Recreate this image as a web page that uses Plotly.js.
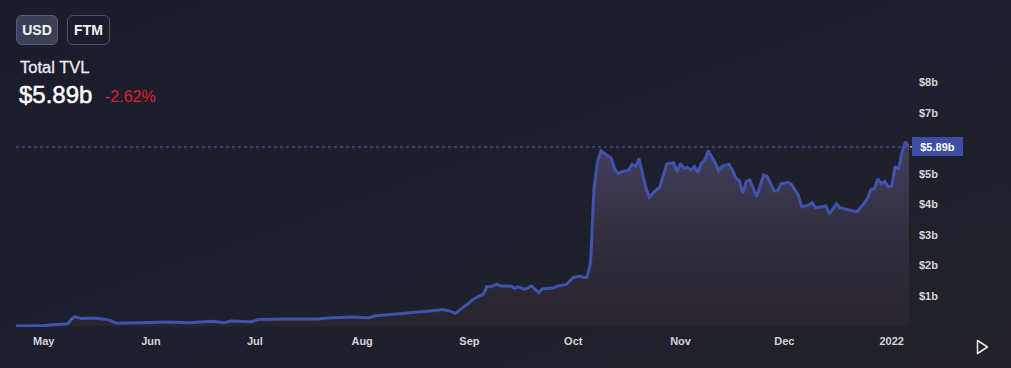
<!DOCTYPE html>
<html>
<head>
<meta charset="utf-8">
<script src="https://cdn.plot.ly/plotly-3.0.1.min.js"></script>
<style>
  html, body { margin:0; padding:0; }
  body { width:1011px; height:368px; overflow:hidden;
         background: linear-gradient(160deg, #1a1c2b 0%, #1e1f2d 55%, #222228 100%);
         font-family: "Liberation Sans", Arial, sans-serif; }
  #wrap { position:relative; width:1011px; height:368px; }
  #chart { position:absolute; left:0; top:0; width:1011px; height:368px; }
  .btn { position:absolute; top:15px; height:28px; border-radius:6px; color:#f2f2f4;
         font-size:14px; font-weight:600; line-height:28px; text-align:center; box-sizing:content-box; }
  #usd { left:16px; width:40px; background:#3b4057; border:1px solid #575d78; }
  #ftm { left:67px; width:41px; background:transparent; border:1px solid #4a4e66; }
  #label { position:absolute; left:20px; top:58px; font-size:16.5px; color:#ececef; -webkit-text-stroke:0.3px #ececef; }
  #value { position:absolute; left:19px; top:81px; font-size:24px; color:#ffffff; -webkit-text-stroke:0.5px #ffffff; }
  #change { position:absolute; left:105px; top:88px; font-size:16px; color:#e0202c; }
  #play { position:absolute; left:974px; top:338px; }
</style>
</head>
<body>
<div id="wrap">
  <div id="chart"></div>
  <div class="btn" id="usd"></div>
  <div class="btn" id="ftm"></div>
  <div id="label"></div>
  <div id="value"></div>
  <div id="change"></div>
  <svg id="play" width="16" height="18"><path d="M3.5,2.5 L13.5,9 L3.5,15.5 Z" fill="none" stroke="#e8e8ea" stroke-width="1.5" stroke-linejoin="round"/></svg>
</div>
<script>
// ---- data ----
const currencies = ['USD', 'FTM'];
const metricLabel = 'Total TVL';
const currentTvl = 5.89;     // billions USD
const changePct = -2.62;     // percent

const dates = [
'2021-04-23','2021-04-30','2021-05-01','2021-05-04','2021-05-07','2021-05-08','2021-05-09','2021-05-10',
'2021-05-12','2021-05-15','2021-05-18','2021-05-20','2021-05-22','2021-05-25','2021-06-01','2021-06-06',
'2021-06-12','2021-06-19','2021-06-22','2021-06-24','2021-06-28','2021-06-30','2021-07-02','2021-07-09',
'2021-07-19','2021-07-22','2021-07-29','2021-08-03','2021-08-05','2021-08-12','2021-08-17','2021-08-23',
'2021-08-24','2021-08-26','2021-08-28','2021-08-29','2021-08-31','2021-09-01','2021-09-02','2021-09-05',
'2021-09-06','2021-09-07','2021-09-09','2021-09-10','2021-09-13','2021-09-14','2021-09-15','2021-09-17',
'2021-09-19','2021-09-21','2021-09-22','2021-09-25','2021-09-27','2021-09-29','2021-10-01','2021-10-03',
'2021-10-04','2021-10-05','2021-10-06','2021-10-07','2021-10-08','2021-10-09','2021-10-11','2021-10-12',
'2021-10-13','2021-10-14','2021-10-15','2021-10-17','2021-10-18','2021-10-19','2021-10-20','2021-10-22',
'2021-10-23','2021-10-24','2021-10-26','2021-10-28','2021-10-30','2021-10-31','2021-11-01','2021-11-02',
'2021-11-03','2021-11-04','2021-11-05','2021-11-06','2021-11-07','2021-11-08','2021-11-09','2021-11-11',
'2021-11-12','2021-11-13','2021-11-15','2021-11-16','2021-11-17','2021-11-18','2021-11-19','2021-11-20',
'2021-11-21','2021-11-23','2021-11-25','2021-11-26','2021-11-28','2021-11-29','2021-11-30','2021-12-02',
'2021-12-03','2021-12-05','2021-12-06','2021-12-07','2021-12-08','2021-12-09','2021-12-10','2021-12-12',
'2021-12-13','2021-12-14','2021-12-16','2021-12-17','2021-12-19','2021-12-21','2021-12-22','2021-12-24',
'2021-12-25','2021-12-26','2021-12-27','2021-12-28','2021-12-29','2021-12-30','2021-12-31','2022-01-01',
'2022-01-02','2022-01-03','2022-01-04','2022-01-05','2022-01-06'
];
const tvl = [
0.02,0.02,0.03,0.06,0.08,0.09,0.24,0.32,
0.26,0.28,0.25,0.21,0.11,0.11,0.13,0.15,
0.12,0.17,0.12,0.18,0.16,0.16,0.23,0.25,
0.25,0.28,0.31,0.29,0.35,0.42,0.46,0.53,
0.56,0.52,0.43,0.53,0.70,0.78,0.89,1.06,
1.30,1.30,1.39,1.33,1.33,1.25,1.30,1.22,
1.33,1.11,1.23,1.26,1.34,1.38,1.61,1.65,
1.61,1.62,2.10,4.55,5.40,5.76,5.59,5.51,
5.15,5.02,5.07,5.13,5.32,5.25,5.51,4.53,
4.24,4.37,4.58,5.33,5.37,5.08,5.35,5.19,
5.22,5.13,5.25,5.05,5.35,5.46,5.76,5.37,
5.11,5.26,5.32,5.13,4.86,4.78,4.37,4.76,
4.80,4.26,4.97,4.93,4.45,4.45,4.67,4.73,
4.67,4.31,3.93,3.96,3.98,4.06,3.90,3.93,
3.96,3.69,4.02,3.90,3.84,3.80,3.76,4.04,
4.20,4.50,4.51,4.84,4.69,4.76,4.58,4.60,
5.25,5.15,5.73,6.06,5.89
];
const monthTicks = ['2021-05-01','2021-06-01','2021-07-01','2021-08-01','2021-09-01','2021-10-01','2021-11-01','2021-12-01','2022-01-01'];
const monthLabels = ['May','Jun','Jul','Aug','Sep','Oct','Nov','Dec','2022'];
const yTickVals = [1,2,3,4,5,7,8];
const yTickText = ['$1b','$2b','$3b','$4b','$5b','$7b','$8b'];

// ---- header text ----
document.getElementById('usd').textContent = currencies[0];
document.getElementById('ftm').textContent = currencies[1];
document.getElementById('label').textContent = metricLabel;
document.getElementById('value').textContent = '$' + currentTvl.toFixed(2) + 'b';
document.getElementById('change').textContent = changePct.toFixed(2) + '%';

const tickFont = {family:'Liberation Sans, Arial, sans-serif', size:11, color:'#d4d4d8', weight:'bold'};

const trace = {
  x: dates, y: tvl, type:'scatter', mode:'lines',
  line: {color:'#3f52ad', width:3},
  fill:'tozeroy',
  fillgradient: {type:'vertical', start:0, stop:6.1,
                 colorscale:[[0,'#27242b'],[0.5,'#322e3f'],[1,'#45405d']]},
  hoverinfo:'skip'
};

const layout = {
  width:1011, height:368,
  margin:{l:16, r:102, t:60, b:41},
  paper_bgcolor:'rgba(0,0,0,0)', plot_bgcolor:'rgba(0,0,0,0)',
  showlegend:false,
  xaxis:{type:'date', range:['2021-04-23','2022-01-06'], showgrid:false, zeroline:false, showline:false,
         tickvals:monthTicks, ticktext:monthLabels, ticks:'', tickfont:tickFont, ticklabelstandoff:6, fixedrange:true},
  yaxis:{side:'right', range:[-0.016, 8.74], showgrid:false, zeroline:false, showline:false,
         tickvals:yTickVals, ticktext:yTickText, ticks:'', tickfont:tickFont, ticklabelstandoff:9, fixedrange:true},
  shapes:[
    {type:'line', xref:'paper', yref:'y', x0:0, x1:1, y0:currentTvl, y1:currentTvl,
     line:{color:'#52609f', width:1, dash:'dot'}, layer:'below'},
    {type:'line', xref:'paper', yref:'y', x0:1.001, x1:1.005, y0:currentTvl, y1:currentTvl,
     line:{color:'#ffffff', width:1}}
  ],
  annotations:[
    {xref:'paper', yref:'y', x:1, y:currentTvl, xanchor:'left', yanchor:'middle', xshift:2.5,
     text:'$' + currentTvl.toFixed(2) + 'b', showarrow:false, bgcolor:'#3d4ea6',
     width:47, height:15, borderpad:2, borderwidth:0,
     font:{family:'Liberation Sans, Arial, sans-serif', size:11, color:'#ffffff', weight:'bold'}}
  ]
};

Plotly.newPlot('chart', [trace], layout, {staticPlot:true, displayModeBar:false});
</script>
</body>
</html>
